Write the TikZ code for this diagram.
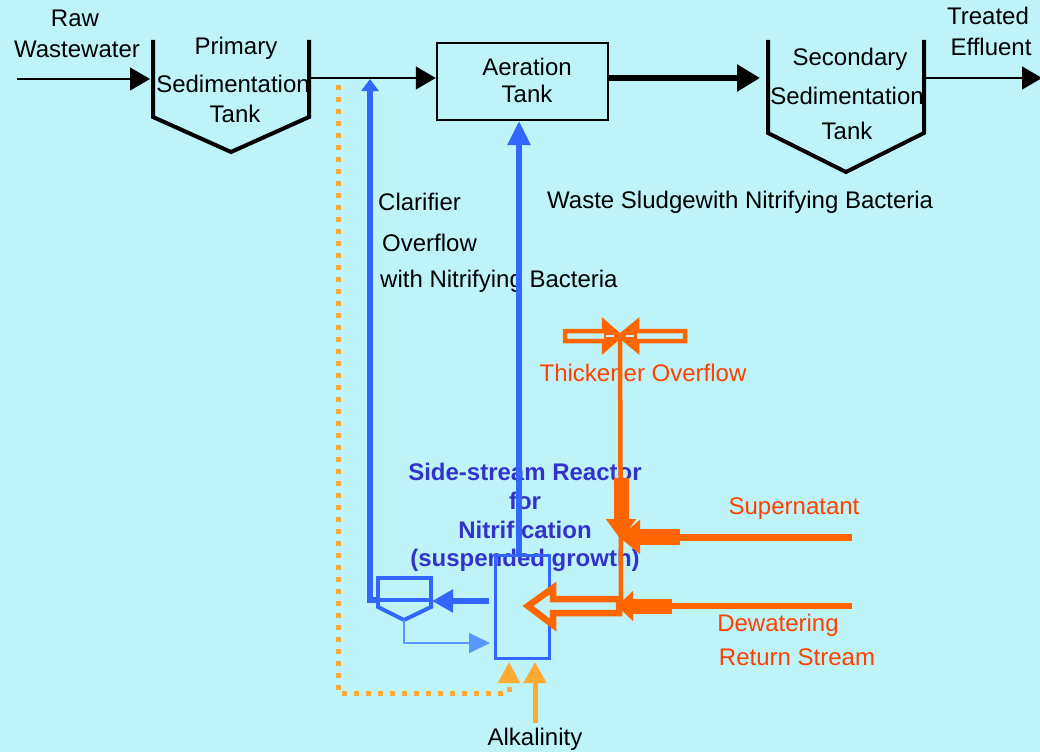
\documentclass[tikz,border=0pt]{standalone}
\usepackage{fontspec}
\setmainfont{Liberation Sans}
\usetikzlibrary{arrows.meta}
\definecolor{bg}{RGB}{190,244,248}
\definecolor{bl}{RGB}{51,102,255}
\definecolor{blthin}{RGB}{90,150,255}
\definecolor{bltxt}{RGB}{51,51,204}
\definecolor{org}{RGB}{255,102,0}
\definecolor{orgtxt}{RGB}{255,64,0}
\definecolor{alk}{RGB}{255,170,51}
\begin{document}
\begin{tikzpicture}[x=1pt,y=-1pt,
  lbl/.style={font=\fontsize{24}{28}\selectfont, inner sep=0pt, anchor=base},
  lbll/.style={lbl, anchor=base west},
  olbl/.style={lbl, text=orgtxt},
  rlbl/.style={lbl, text=bltxt, font=\fontsize{24}{28}\selectfont\bfseries},
  tankline/.style={line width=4pt, line join=miter},
  thinflow/.style={line width=1.3pt, -{Triangle[length=20pt,width=23pt]}},
  thickflow/.style={line width=6pt, -{Triangle[length=23pt,width=26pt]}},
  blueflow/.style={bl, line width=5.5pt, line join=miter},
  hollow/.style={org, fill=bg, line join=miter},
  alkflow/.style={alk, line width=5pt}]
\useasboundingbox (0,0) rectangle (1040,752);
\fill[bg] (0,0) rectangle (1040,752);

% ---------- texts ----------
\node[lbl] (rawA) at (75,27) {Raw};
\node[lbl] (rawB) at (77,58) {Wastewater};
\node[lbl] (priA) at (236,55) {Primary};
\node[lbl] (priB) at (233,92) {Sedimentation};
\node[lbl] (priC) at (235,122) {Tank};
\node[lbl] (aerA) at (527,75) {Aeration};
\node[lbl] (aerB) at (527,102) {Tank};
\node[lbl] (secA) at (850,66) {Secondary};
\node[lbl] (secB) at (847,104) {Sedimentation};
\node[lbl] (secC) at (847,139) {Tank};
\node[lbl] (trtA) at (988,25) {Treated};
\node[lbl] (trtB) at (991,56) {Effluent};
\node[lbll] (clA) at (378,210) {Clarifier};
\node[lbll] (clB) at (382,251) {Overflow};
\node[lbll] (clC) at (380,287) {with Nitrifying Bacteria};
\node[lbll] (waste) at (547,208) {Waste Sludgewith Nitrifying Bacteria};
\node[olbl] (thick) at (643,381) {Thickener Overflow};
\node[olbl] (super) at (794,514) {Supernatant};
\node[olbl] (dewA) at (778,631) {Dewatering};
\node[olbl] (dewB) at (797,665) {Return Stream};
\node[lbl] (alkt) at (535,745) {Alkalinity};
\node[rlbl] (ssA) at (525,480) {Side-stream Reactor};
\node[rlbl] (ssB) at (525,509) {for};
\node[rlbl] (ssC) at (525,538) {Nitrification};
\node[rlbl] (ssD) at (525,566) {(suspended growth)};

% ---------- main line ----------
\coordinate (in0) at (17,79);
\coordinate (priL) at (150,79);
\coordinate (priR) at (309,78);
\node[draw, line width=2.5pt, minimum width=171pt, minimum height=77pt, inner sep=0pt] (aer) at (522.5,81.5) {};
\coordinate (secL) at (760,78);
\coordinate (secR) at (924,78);
\coordinate (out) at (1042,78);

\draw[tankline] (153,40) -- (153,117) -- (231,152) -- (309,117) -- (309,40);
\draw[tankline] (768,40) -- (768,133) -- (846,172) -- (924,133) -- (924,40);

\draw[thinflow] (in0) -- (priL);
\draw[thinflow] (priR) -- (aer.west |- priR);
\draw[thickflow] (aer.east |- secL) -- (secL);
\draw[thinflow] (secR) -- (out);

% ---------- side-stream reactor (blue) ----------
\node[draw=bl, line width=3pt, minimum width=54pt, minimum height=103pt, inner sep=0pt] (reac) at (522,606.5) {};
\coordinate (clarIn) at (432,601);
\coordinate (clarTL) at (378,578);
\coordinate (clarBR) at (431,600);
\coordinate (clarV) at (404,620);
\coordinate (ovTop) at (370,79);

\draw[bl, line width=4pt] (clarTL) rectangle (clarBR);
\draw[bl, line width=4pt, line join=miter] (clarTL |- clarBR) -- ++(0,7) -- (clarV) -- (431,607) -- (clarBR);

\draw[blueflow, -{Triangle[length=12pt,width=17pt]}] (clarTL |- clarBR) -- (ovTop |- clarBR) -- (ovTop);
\draw[blueflow, -{Triangle[length=24pt,width=22pt]}] (reac.north -| 519,0) -- (519,121);
\draw[blueflow, -{Triangle[length=21pt,width=22pt]}] (reac.west |- clarIn) ++(-5,0) -- (clarIn);
\draw[blthin, line width=1.5pt, -{Triangle[length=21pt,width=20pt]}] (clarV) -- (404,643) -- (490,643);

% ---------- orange streams ----------
\coordinate (meet) at (620,336);
\draw[hollow, line width=4.5pt] (565,331) -- (604,331) -- (604,322) -- (meet) -- (604,350) -- (604,341) -- (565,341) -- cycle;
\fill[org] (604,320) -- (meet) -- (604,352) -- cycle;
\draw[hollow, line width=4.5pt] (685,331) -- (637,331) -- (637,322) -- (meet) -- (637,350) -- (637,341) -- (685,341) -- cycle;
\fill[org] (637,320) -- (meet) -- (637,352) -- cycle;
\draw[bg, line width=1.5pt] (606,336) -- (614,336) (634,336) -- (626,336);
\draw[org, line width=4.5pt] (meet) -- (621,606);

\draw[org, line width=15pt, -{Triangle[length=21pt,width=29pt]}] (621,478) -- (621,540);
\draw[org, line width=7pt] (852,537) -- (680,537);
\draw[org, line width=16pt, -{Triangle[length=21pt,width=33pt]}] (680,537) -- (619,537);

\draw[org, line width=6pt] (852,606) -- (672,606);
\draw[org, line width=15pt, -{Triangle[length=16pt,width=29pt]}] (672,606) -- (617,606);

\draw[hollow, line width=6.5pt] (619,599) -- (553,599) -- (553,588) -- (528,606) -- (553,625) -- (553,613) -- (619,613) -- cycle;

% ---------- alkalinity ----------
\draw[alkflow, dash pattern=on 5pt off 7pt, -{Triangle[length=21pt,width=21pt]}] (338,85) -- (338,693) -- (509,693) -- (509,662);
\draw[alkflow, -{Triangle[length=21pt,width=22pt]}] (alkt.north -| 535,0) ++(0,-4) -- (535,662);
\end{tikzpicture}
\end{document}
